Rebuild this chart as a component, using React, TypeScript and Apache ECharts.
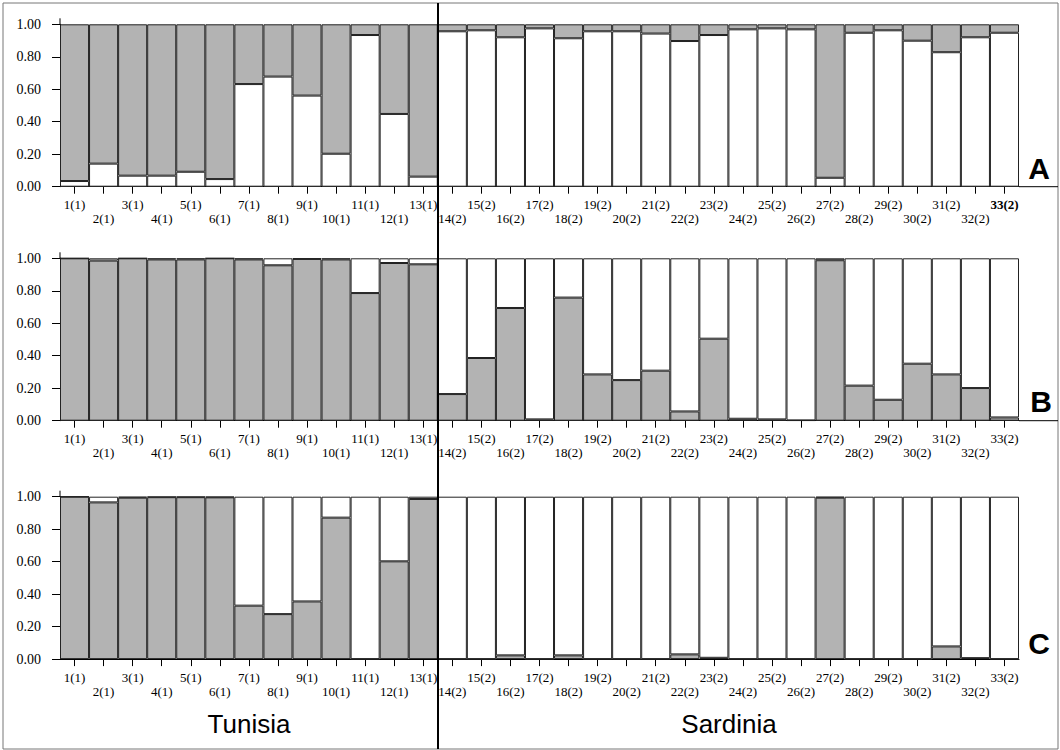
import React, { useEffect, useRef } from "react";
import * as echarts from "echarts";

const categories = [
  "1(1)", "2(1)", "3(1)", "4(1)", "5(1)", "6(1)", "7(1)", "8(1)", "9(1)", "10(1)",
  "11(1)", "12(1)", "13(1)", "14(2)", "15(2)", "16(2)", "17(2)", "18(2)", "19(2)", "20(2)",
  "21(2)", "22(2)", "23(2)", "24(2)", "25(2)", "26(2)", "27(2)", "28(2)", "29(2)", "30(2)",
  "31(2)", "32(2)", "33(2)",
];

// Panel A: white (bottom) proportion
const panelAWhite = [
  0.035, 0.142, 0.068, 0.068, 0.092, 0.047, 0.632, 0.678, 0.561, 0.203,
  0.934, 0.448, 0.062, 0.957, 0.963, 0.92, 0.975, 0.914, 0.957, 0.957,
  0.943, 0.897, 0.934, 0.969, 0.975, 0.969, 0.055, 0.948, 0.963, 0.899,
  0.828, 0.92, 0.948,
];

// Panel B: grey (bottom) proportion
const panelBGrey = [
  1.0, 0.986, 1.0, 0.993, 0.993, 1.0, 0.993, 0.957, 0.996, 0.993,
  0.786, 0.971, 0.963, 0.164, 0.386, 0.694, 0.008, 0.758, 0.285, 0.25,
  0.308, 0.057, 0.505, 0.012, 0.008, 0.002, 0.988, 0.216, 0.129, 0.351,
  0.285, 0.201, 0.02,
];

// Panel C: grey (bottom) proportion
const panelCGrey = [
  1.0, 0.965, 0.994, 0.997, 0.997, 0.996, 0.329, 0.277, 0.355, 0.871,
  0.0, 0.602, 0.986, 0.0, 0.0, 0.023, 0.0, 0.023, 0.0, 0.0,
  0.0, 0.029, 0.008, 0.0, 0.0, 0.0, 0.994, 0.0, 0.0, 0.0,
  0.078, 0.006, 0.0,
];

const yTicks = [0, 0.2, 0.4, 0.6, 0.8, 1.0];
const panelLetters = ["A", "B", "C"];
const regionNames = ["Tunisia", "Sardinia"];
const boldLabelInA = "33(2)";

const GREY = "#b3b3b3";
const WHITE = "#ffffff";
const SERIF = '"Liberation Serif", "Times New Roman", serif';
const SANS = '"Liberation Sans", Arial, sans-serif';

export default function App() {
  const ref = useRef<HTMLDivElement>(null);

  useEffect(() => {
    if (!ref.current) return;
    const chart = echarts.init(ref.current, undefined, { renderer: "svg" });

    const gridLeft = 60;
    const gridRight = 1019;
    const gridTops = [24.3, 258.3, 496.7];
    const gridH = 162.4;

    const grids = gridTops.map((t) => ({
      left: gridLeft,
      top: t,
      width: gridRight - gridLeft,
      height: gridH,
      containLabel: false,
    }));

    const xAxes = gridTops.map((_, gi) => ({
      type: "category",
      gridIndex: gi,
      data: categories,
      axisLine: { show: true, lineStyle: { color: "#000", width: 1 } },
      axisTick: { show: true, alignWithLabel: true, length: 7, lineStyle: { color: "#000" } },
      axisLabel: {
        interval: 0,
        margin: 11,
        fontFamily: SERIF,
        fontSize: 13,
        color: "#000",
        lineHeight: 14,
        formatter: (v: string, idx: number) => {
          const pre = idx % 2 === 1 ? "\n" : "";
          if (gi === 0 && v === boldLabelInA) return pre + "{b|" + v + "}";
          return pre + v;
        },
        rich: {
          b: { fontFamily: SERIF, fontSize: 13, fontWeight: "bold", color: "#000", lineHeight: 14 },
        },
      },
    }));

    const yAxes = gridTops.map((_, gi) => ({
      type: "value",
      gridIndex: gi,
      min: yTicks[0],
      max: yTicks[yTicks.length - 1],
      interval: 0.2,
      splitLine: { show: false },
      axisLine: { show: true, lineStyle: { color: "#000", width: 1 } },
      axisTick: { show: true, length: 8, lineStyle: { color: "#000" } },
      axisLabel: {
        margin: 19,
        fontFamily: SERIF,
        fontSize: 14,
        color: "#000",
        formatter: (v: number) => v.toFixed(2),
      },
    }));

    const mkBar = (gi: number, data: number[], color: string) => ({
      type: "bar",
      xAxisIndex: gi,
      yAxisIndex: gi,
      stack: "s" + gi,
      data,
      barWidth: "100%",
      barCategoryGap: "0%",
      itemStyle: { color, borderColor: "#222", borderWidth: 1 },
      emphasis: { disabled: true },
    });

    const series = [
      mkBar(0, panelAWhite, WHITE),
      mkBar(0, panelAWhite.map((v) => +(1 - v).toFixed(3)), GREY),
      mkBar(1, panelBGrey, GREY),
      mkBar(1, panelBGrey.map((v) => +(1 - v).toFixed(3)), WHITE),
      mkBar(2, panelCGrey, GREY),
      mkBar(2, panelCGrey.map((v) => +(1 - v).toFixed(3)), WHITE),
    ];

    const letterPos = [
      [1039, 168.5],
      [1041, 401],
      [1039, 643],
    ];

    const graphic: any[] = [
      {
        type: "rect",
        shape: { x: 3, y: 3, width: 1055, height: 746 },
        style: { fill: "none", stroke: "#777", lineWidth: 1 },
        z: 50,
        silent: true,
      },
      {
        type: "line",
        shape: { x1: 438, y1: 3, x2: 438, y2: 749 },
        style: { stroke: "#000", lineWidth: 2 },
        z: 100,
        silent: true,
      },
    ];
    gridTops.forEach((t, gi) => {
      graphic.push({
        type: "line",
        shape: { x1: gridLeft, y1: t - 6, x2: gridLeft, y2: t },
        style: { stroke: "#000", lineWidth: 1 },
        z: 60,
        silent: true,
      });
      if (gi < 2) {
        graphic.push({
          type: "line",
          shape: { x1: gridRight, y1: t + gridH, x2: 1058, y2: t + gridH },
          style: { stroke: "#000", lineWidth: 1 },
          z: 60,
          silent: true,
        });
      }
    });
    panelLetters.forEach((L, i) => {
      graphic.push({
        type: "text",
        x: letterPos[i][0],
        y: letterPos[i][1],
        style: {
          text: L,
          fontFamily: SANS,
          fontWeight: "bold",
          fontSize: 30,
          fill: "#000",
          align: "center",
          verticalAlign: "middle",
        },
        z: 60,
      });
    });
    const regionX = [249, 729];
    regionNames.forEach((n, i) => {
      graphic.push({
        type: "text",
        x: regionX[i],
        y: 724,
        style: {
          text: n,
          fontFamily: SANS,
          fontSize: 26,
          fill: "#000",
          align: "center",
          verticalAlign: "middle",
        },
        z: 60,
      });
    });

    chart.setOption({
      animation: false,
      backgroundColor: "#fff",
      grid: grids,
      xAxis: xAxes,
      yAxis: yAxes,
      series,
      graphic,
    });

    return () => {
      chart.dispose();
    };
  }, []);

  return (
    <div
      ref={ref}
      style={{ position: "absolute", left: 0, top: 0, width: 1060, height: 750 }}
    />
  );
}
